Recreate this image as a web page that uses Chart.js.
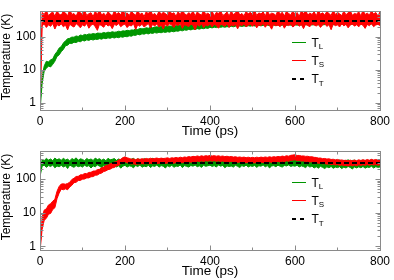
<!DOCTYPE html>
<html>
<head>
<meta charset="utf-8">
<script src="https://cdn.jsdelivr.net/npm/chart.js@4.4.1/dist/chart.umd.min.js"></script>
<style>
    html, body { margin: 0; padding: 0; background: #fff; }
    .panel { position: absolute; left: 0; width: 394px; height: 140px; }
</style>
</head>
<body>
<div class="panel" style="top:0"><canvas id="topChart" width="394" height="140"></canvas></div>
<div class="panel" style="top:140px"><canvas id="bottomChart" width="394" height="140"></canvas></div>
<script>
// time axis, ps
const timePs =
[
    0, 5, 10, 15, 20, 25, 30, 35, 40, 45,
    50, 55, 60, 65, 70, 75, 80, 85, 90, 95,
    100, 105, 110, 115, 120, 125, 130, 135, 140, 145,
    150, 155, 160, 165, 170, 175, 180, 185, 190, 195,
    200, 205, 210, 215, 220, 225, 230, 235, 240, 245,
    250, 255, 260, 265, 270, 275, 280, 285, 290, 295,
    300, 305, 310, 315, 320, 325, 330, 335, 340, 345,
    350, 355, 360, 365, 370, 375, 380, 385, 390, 395,
    400, 405, 410, 415, 420, 425, 430, 435, 440, 445,
    450, 455, 460, 465, 470, 475, 480, 485, 490, 495,
    500, 505, 510, 515, 520, 525, 530, 535, 540, 545,
    550, 555, 560, 565, 570, 575, 580, 585, 590, 595,
    600, 605, 610, 615, 620, 625, 630, 635, 640, 645,
    650, 655, 660, 665, 670, 675, 680, 685, 690, 695,
    700, 705, 710, 715, 720, 725, 730, 735, 740, 745,
    750, 755, 760, 765, 770, 775, 780, 785, 790, 795,
    800
];

// upper panel: T_L (green) envelope
const topLiquidHi =
[
    0.9, 6.4, 13, 18, 17, 20, 21, 29, 35, 45,
    50, 64, 75, 86, 89, 97, 96, 105, 101, 112,
    108, 117, 113, 121, 118, 124, 120, 128, 127, 126,
    134, 128, 137, 133, 141, 136, 139, 146, 142, 150,
    147, 156, 151, 160, 158, 171, 164, 177, 172, 175,
    186, 180, 192, 186, 195, 199, 193, 203, 196, 207,
    202, 211, 206, 216, 212, 225, 219, 231, 236, 230,
    246, 239, 254, 247, 261, 252, 268, 259, 275, 271,
    283, 276, 289, 280, 287, 295, 286, 300, 291, 304,
    298, 307, 300, 311, 304, 315, 306, 318, 310, 316,
    320, 313, 324, 317, 322, 328, 318, 330, 323, 333,
    325, 336, 329, 331, 338, 330, 341, 334, 343, 336,
    345, 338, 342, 348, 339, 350, 343, 351, 345, 349,
    353, 346, 355, 348, 352, 357, 349, 358, 351, 356,
    359, 352, 360, 355, 358, 361, 353, 362, 356, 360,
    363, 355, 364, 358, 361, 365, 357, 366, 359, 362,
    364
];
const topLiquidLo =
[
    0.55, 3.8, 9.2, 11, 12.8, 12.1, 14.5, 18, 25, 28,
    35, 41, 53, 55, 63, 62, 68, 66, 72, 70,
    77, 74, 80, 77, 83, 79, 84, 82, 87, 84,
    90, 87, 92, 89, 95, 91, 96, 93, 99, 96,
    102, 99, 106, 103, 111, 109, 118, 113, 122, 119,
    126, 121, 129, 125, 133, 128, 136, 131, 139, 134,
    141, 137, 145, 140, 149, 146, 155, 150, 160, 156,
    166, 160, 170, 165, 175, 169, 178, 174, 183, 178,
    191, 184, 194, 188, 197, 191, 199, 193, 201, 197,
    206, 199, 208, 202, 210, 204, 212, 205, 214, 208,
    217, 210, 215, 219, 212, 221, 214, 222, 216, 220,
    224, 217, 225, 219, 223, 227, 220, 228, 222, 226,
    229, 222, 230, 224, 227, 231, 225, 232, 226, 230,
    233, 227, 234, 228, 231, 235, 229, 236, 230, 233,
    237, 230, 236, 232, 238, 231, 237, 233, 239, 232,
    238, 234, 240, 233, 239, 235, 241, 234, 240, 236,
    238
];

// upper panel: T_S (red) envelope
const topSolidHi =
[
    0.7, 540, 470, 620, 430, 505, 560, 415, 600, 480,
    450, 590, 520, 430, 655, 470, 500, 420, 575, 535,
    460, 610, 440, 495, 530, 405, 585, 470, 640, 450,
    515, 430, 560, 495, 420, 605, 480, 540, 455, 660,
    470, 525, 435, 580, 500, 445, 615, 465, 520, 410,
    570, 490, 640, 455, 505, 425, 595, 475, 545, 500,
    440, 620, 485, 530, 415, 570, 460, 650, 495, 450,
    535, 470, 600, 425, 560, 490, 445, 625, 470, 515,
    455, 585, 430, 545, 500, 610, 440, 480, 560, 420,
    590, 465, 520, 640, 450, 505, 430, 575, 490, 545,
    470, 610, 440, 525, 485, 565, 425, 600, 460, 515,
    495, 440, 630, 475, 550, 420, 585, 505, 455, 600,
    465, 540, 415, 595, 490, 645, 450, 520, 470, 565,
    430, 605, 480, 525, 455, 575, 500, 440, 620, 470,
    545, 490, 435, 590, 460, 530, 610, 445, 505, 480,
    570, 425, 625, 470, 515, 455, 595, 485, 540, 430,
    560
];
const topSolidLo =
[
    0.6, 215, 240, 190, 228, 205, 250, 170, 232, 210,
    245, 198, 225, 160, 238, 212, 195, 247, 220, 185,
    230, 208, 252, 180, 222, 240, 200, 155, 235, 215,
    192, 244, 210, 228, 175, 236, 218, 250, 200, 226,
    240, 188, 222, 210, 248, 165, 230, 205, 238, 196,
    220, 250, 182, 234, 212, 242, 195, 226, 170, 236,
    208, 245, 225, 190, 238, 214, 250, 178, 230, 218,
    200, 240, 222, 160, 234, 206, 246, 188, 228, 212,
    244, 196, 236, 218, 180, 240, 224, 205, 248, 190,
    226, 210, 238, 172, 232, 215, 245, 198, 222, 236,
    205, 242, 185, 228, 214, 250, 192, 234, 220, 168,
    238, 212, 226, 200, 246, 180, 230, 216, 240, 195,
    222, 248, 206, 234, 175, 238, 218, 200, 244, 226,
    210, 236, 190, 228, 250, 204, 232, 162, 240, 215,
    228, 196, 246, 212, 236, 185, 224, 242, 208, 230,
    198, 240, 220, 178, 234, 214, 248, 200, 226, 236,
    218
];

// lower panel: T_L (green) envelope
const bottomLiquidHi =
[
    125, 380, 355, 410, 365, 395, 350, 420, 372, 400,
    358, 415, 368, 390, 345, 405, 375, 425, 360, 398,
    382, 350, 410, 370, 395, 355, 418, 378, 402, 362,
    392, 348, 412, 372, 385, 405, 358, 395, 368, 420,
    375, 400, 352, 390, 410, 365, 398, 380, 355, 405,
    370, 392, 348, 415, 378, 400, 360, 388, 408, 366,
    395, 355, 402, 380, 418, 362, 390, 372, 410, 385,
    400, 368, 425, 382, 405, 390, 430, 375, 412, 395,
    420, 388, 410, 398, 426, 380, 405, 415, 390, 408,
    385, 412, 376, 400, 392, 418, 370, 396, 382, 405,
    378, 402, 368, 395, 410, 372, 398, 385, 415, 380,
    392, 376, 408, 385, 420, 395, 412, 400, 428, 405,
    418, 396, 410, 388, 402, 380, 395, 372, 390, 368,
    372, 350, 366, 380, 345, 370, 352, 362, 340, 360,
    350, 368, 338, 358, 346, 372, 340, 356, 362, 335,
    354, 342, 366, 338, 360, 350, 372, 346, 358, 352,
    356
];
const bottomLiquidLo =
[
    118, 240, 258, 222, 250, 235, 262, 215, 245, 230,
    255, 228, 248, 205, 260, 238, 222, 252, 232, 244,
    226, 258, 236, 250, 212, 246, 230, 262, 240, 218,
    250, 234, 256, 220, 244, 262, 228, 248, 210, 240,
    256, 226, 246, 238, 215, 252, 234, 260, 224, 242,
    232, 255, 220, 246, 236, 262, 225, 250, 240, 212,
    248, 230, 258, 222, 244, 236, 262, 218, 250, 238,
    226, 252, 240, 260, 232, 246, 222, 256, 238, 248,
    258, 236, 250, 226, 262, 240, 254, 216, 246, 234,
    244, 226, 256, 238, 220, 250, 236, 258, 228, 246,
    236, 254, 222, 248, 240, 262, 230, 250, 214, 244,
    250, 232, 258, 240, 226, 254, 244, 262, 236, 248,
    240, 256, 228, 246, 234, 218, 250, 226, 242, 212,
    232, 210, 238, 222, 205, 230, 215, 236, 208, 226,
    218, 232, 204, 226, 212, 236, 220, 200, 228, 214,
    230, 216, 236, 210, 226, 220, 240, 212, 232, 222,
    226
];

// lower panel: T_S (red) envelope
const bottomSolidHi =
[
    0.8, 7.5, 12, 13, 17, 18.5, 22, 25, 43, 60,
    71, 72, 70, 74, 80, 97, 105, 119, 120, 133,
    134, 146, 144, 157, 158, 172, 173, 190, 194, 216,
    226, 252, 258, 282, 290, 318, 330, 366, 385, 430,
    455, 425, 410, 388, 396, 376, 398, 382, 402, 388,
    410, 392, 415, 398, 408, 420, 400, 418, 405, 414,
    425, 408, 428, 418, 436, 420, 445, 430, 452, 440,
    465, 448, 472, 460, 485, 466, 490, 472, 495, 480,
    500, 482, 495, 476, 490, 470, 482, 462, 475, 455,
    468, 448, 460, 440, 452, 436, 448, 430, 444, 428,
    440, 426, 445, 430, 448, 435, 452, 438, 458, 442,
    462, 448, 468, 455, 480, 465, 492, 476, 505, 515,
    525, 500, 502, 482, 486, 470, 474, 455, 458, 440,
    436, 418, 420, 402, 408, 392, 398, 380, 386, 370,
    382, 362, 370, 355, 362, 346, 364, 348, 366, 350,
    372, 356, 374, 358, 380, 362, 384, 366, 380, 364,
    375
];
const bottomSolidLo =
[
    0.7, 3.2, 6, 6.8, 9, 9.5, 12.5, 14, 26, 38,
    50, 48, 51, 48, 58, 65, 78, 80, 90, 91,
    99, 100, 108, 108, 117, 118, 129, 131, 144, 150,
    167, 174, 190, 196, 214, 220, 244, 254, 284, 300,
    328, 305, 296, 278, 284, 270, 282, 278, 288, 280,
    292, 282, 294, 284, 296, 286, 298, 288, 300, 290,
    300, 290, 304, 294, 310, 298, 315, 303, 322, 312,
    328, 314, 334, 322, 340, 330, 346, 334, 350, 340,
    352, 340, 350, 336, 346, 332, 342, 328, 336, 322,
    332, 318, 324, 312, 320, 308, 316, 304, 315, 302,
    312, 300, 316, 304, 318, 306, 320, 308, 324, 312,
    326, 314, 332, 320, 340, 328, 348, 336, 358, 364,
    372, 352, 356, 340, 344, 330, 336, 320, 324, 308,
    308, 294, 296, 284, 288, 276, 282, 268, 274, 262,
    270, 256, 262, 250, 256, 244, 258, 246, 260, 248,
    264, 252, 266, 254, 270, 258, 272, 260, 270, 258,
    266
];

// thermostat target T_T
const targetTime = [0, 800];
const targetTemp = [300, 300];

const xMajorTicks = [0, 200, 400, 600, 800];
const xMinorTicks = [100, 300, 500, 700];
const yMajorTicks = [1, 10, 100];
const legendNames = ['T', 'T', 'T'];
const legendSubs = ['L', 'S', 'T'];

const GREEN = 'rgb(0,150,0)';
const RED = 'rgb(255,0,0)';
const FRAME_COLOR = '#8a8a8a';
const FONT = '"Liberation Sans", Arial, sans-serif';

Chart.defaults.font.family = FONT;
Chart.defaults.color = '#000';

function toPoints(xs, ys)
{
    return xs.map((x, i) => ({ x: x, y: ys[i] }));
}

function bandDatasets(hi, lo, color)
{
    return [
        {
            data: toPoints(timePs, hi),
            borderColor: color,
            backgroundColor: color,
            borderWidth: 1,
            pointRadius: 0,
            tension: 0,
            fill: false
        },
        {
            data: toPoints(timePs, lo),
            borderColor: color,
            backgroundColor: color,
            borderWidth: 1,
            pointRadius: 0,
            tension: 0,
            fill: '-1'
        }
    ];
}

const framePlugin =
{
    id: 'frame',
    afterDraw(chart)
    {
        const ctx = chart.ctx;
        const area = chart.chartArea;
        const xScale = chart.scales.x;
        const yScale = chart.scales.y;
        const left = Math.round(area.left) + 0.5;
        const right = Math.round(area.right) + 0.5;
        const top = Math.round(area.top) + 0.5;
        const bottom = Math.round(area.bottom) + 0.5;

        ctx.save();
        ctx.strokeStyle = FRAME_COLOR;
        ctx.lineWidth = 1;
        ctx.beginPath();

        const xTick = (v, len) =>
        {
            const px = Math.round(xScale.getPixelForValue(v)) + 0.5;
            ctx.moveTo(px, bottom); ctx.lineTo(px, bottom - len);
            ctx.moveTo(px, top); ctx.lineTo(px, top + len);
        };
        const yTick = (v, len) =>
        {
            const py = Math.round(yScale.getPixelForValue(v)) + 0.5;
            ctx.moveTo(left, py); ctx.lineTo(left + len, py);
            ctx.moveTo(right, py); ctx.lineTo(right - len, py);
        };

        xMajorTicks.forEach(v => xTick(v, 5));
        xMinorTicks.forEach(v => xTick(v, 3));
        yMajorTicks.forEach(v => yTick(v, 5));

        // minor log ticks
        for (let d = 0.1; d < yScale.max; d *= 10)
        {
            for (let m = 2; m <= 9; m++)
            {
                const v = m * d;
                if (v > yScale.min && v < yScale.max) yTick(v, 3);
            }
        }
        ctx.stroke();
        ctx.strokeRect(left, top, right - left, bottom - top);

        // axis titles
        ctx.fillStyle = '#000';
        ctx.textAlign = 'center';
        ctx.textBaseline = 'middle';
        ctx.font = '13.5px ' + FONT;
        ctx.fillText('Time (ps)', (area.left + area.right) / 2, 131);

        ctx.save();
        ctx.translate(7, 57);
        ctx.rotate(-Math.PI / 2);
        ctx.font = '12px ' + FONT;
        ctx.fillText('Temperature (K)', 0, 0);
        ctx.restore();

        // legend
        const colors = [GREEN, RED, '#000'];
        const rows = [42.5, 60.5, 79];
        ctx.textAlign = 'left';
        ctx.textBaseline = 'alphabetic';
        for (let i = 0; i < legendNames.length; i++)
        {
            const y = rows[i];
            ctx.strokeStyle = colors[i];
            ctx.lineWidth = i === 2 ? 2 : 1;
            ctx.setLineDash(i === 2 ? [4, 4] : []);
            ctx.beginPath();
            ctx.moveTo(292, y);
            ctx.lineTo(306, y);
            ctx.stroke();
            ctx.setLineDash([]);

            ctx.font = '12px ' + FONT;
            ctx.fillText(legendNames[i], 311.5, y + 4);
            const w = ctx.measureText(legendNames[i]).width;
            ctx.font = '8px ' + FONT;
            ctx.fillText(legendSubs[i], 311.5 + w, y + 6.5);
        }
        ctx.restore();
    }
};

function makeChart(id, liquidHi, liquidLo, solidHi, solidLo, yMin, yMax)
{
    const datasets =
    [
        {
            data: toPoints(targetTime, targetTemp),
            borderColor: '#000',
            borderWidth: 2,
            borderDash: [5, 3],
            pointRadius: 0,
            fill: false
        },
        ...bandDatasets(solidHi, solidLo, RED),
        ...bandDatasets(liquidHi, liquidLo, GREEN)
    ];

    const config =
    {
        type: 'line',
        data: { datasets: datasets },
        options:
        {
            responsive: false,
            animation: false,
            layout: { padding: { top: 1, right: 11, left: 0, bottom: 0 } },
            plugins:
            {
                legend: { display: false },
                tooltip: { enabled: false }
            },
            scales:
            {
                x:
                {
                    type: 'linear',
                    min: 0,
                    max: 800,
                    afterBuildTicks: s => { s.ticks = xMajorTicks.map(v => ({ value: v })); },
                    afterFit: s => { s.height = 30; },
                    grid: { display: false, drawTicks: false },
                    border: { display: false },
                    ticks: { font: { size: 12 }, padding: 4, maxRotation: 0, autoSkip: false }
                },
                y:
                {
                    type: 'logarithmic',
                    min: yMin,
                    max: yMax,
                    afterBuildTicks: s => { s.ticks = yMajorTicks.map(v => ({ value: v })); },
                    afterFit: s => { s.width = 40; },
                    grid: { display: false, drawTicks: false },
                    border: { display: false },
                    ticks: { font: { size: 12 }, padding: 4, callback: v => String(v) }
                }
            }
        },
        plugins: [framePlugin]
    };

    const ctx = document.getElementById(id).getContext('2d');
    return new Chart(ctx, config);
}

makeChart('topChart', topLiquidHi, topLiquidLo, topSolidHi, topSolidLo, 0.63, 590);
makeChart('bottomChart', bottomLiquidHi, bottomLiquidLo, bottomSolidHi, bottomSolidLo, 0.78, 670);
</script>
</body>
</html>
